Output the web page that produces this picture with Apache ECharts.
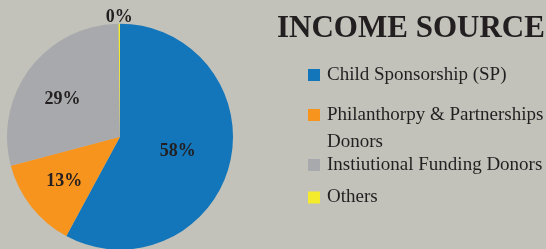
<!DOCTYPE html>
<html>
<head>
<meta charset="utf-8">
<script src="https://cdn.jsdelivr.net/npm/echarts@6/dist/echarts.min.js"></script>
<style>
html,body{margin:0;padding:0;background:#c3c2ba;}
#c{width:546px;height:249px;}
</style>
</head>
<body>
<div id="c"></div>
<script>
const categories = ['Child Sponsorship (SP)', 'Philanthorpy & Partnerships\nDonors', 'Instiutional Funding Donors', 'Others'];
const values = [58, 13, 29, 0.2];
const percentLabels = ['58%', '13%', '29%', '0%'];
const colors = ['#1376bb', '#f7941d', '#a7a9ac', '#f4eb2c'];
const titleText = 'INCOME SOURCE';

const serif = '"Liberation Serif", "DejaVu Serif", serif';
const textColor = '#231f20';
// label nudges (style only)
const labelNudge = [[0, 0], [-9, 8], [-10, -1], [5, -6]];
const legendTops = [64, 74.5, 154, 186.5];

const chart = echarts.init(document.getElementById('c'), null, {renderer: 'canvas'});

const legends = categories.map(function (name, i) {
  const isMulti = name.indexOf('\n') >= 0;
  return {
    left: 308,
    top: legendTops[i],
    padding: 0,
    orient: 'vertical',
    icon: 'rect',
    itemWidth: 12,
    itemHeight: 12,
    selectedMode: false,
    data: [name],
    // for the wrapped item, a blank first line keeps the marker beside the first text line
    formatter: function (n) { return isMulti ? ' \n' + n : n; },
    textStyle: {
      fontFamily: serif,
      fontSize: 19,
      color: textColor,
      lineHeight: isMulti ? 27 : 22,
      padding: [0, 0, 0, 2]
    }
  };
});

chart.setOption({
  backgroundColor: '#c3c2ba',
  animation: false,
  title: {
    text: titleText,
    left: 277,
    top: 13,
    padding: 0,
    textStyle: {fontFamily: serif, fontSize: 31, fontWeight: 'bold', color: textColor}
  },
  legend: legends,
  series: [{
    type: 'pie',
    center: [120, 136.7],
    radius: 113,
    startAngle: 90,
    clockwise: true,
    avoidLabelOverlap: false,
    label: {
      show: true,
      position: 'inside',
      fontFamily: serif,
      fontSize: 18,
      fontWeight: 'bold',
      color: textColor,
      formatter: function (p) { return percentLabels[p.dataIndex]; }
    },
    labelLine: {show: false, length: 0, length2: 0},
    labelLayout: function (p) {
      const n = labelNudge[p.dataIndex];
      const o = {dx: n[0], dy: n[1]};
      if (p.dataIndex === 3) { o.align = 'center'; }
      return o;
    },
    itemStyle: {borderWidth: 0},
    emphasis: {disabled: true},
    data: categories.map(function (name, i) {
      const d = {name: name, value: values[i], itemStyle: {color: colors[i]}};
      if (i === 3) { d.label = {position: 'outside'}; }
      return d;
    })
  }]
});
</script>
</body>
</html>
